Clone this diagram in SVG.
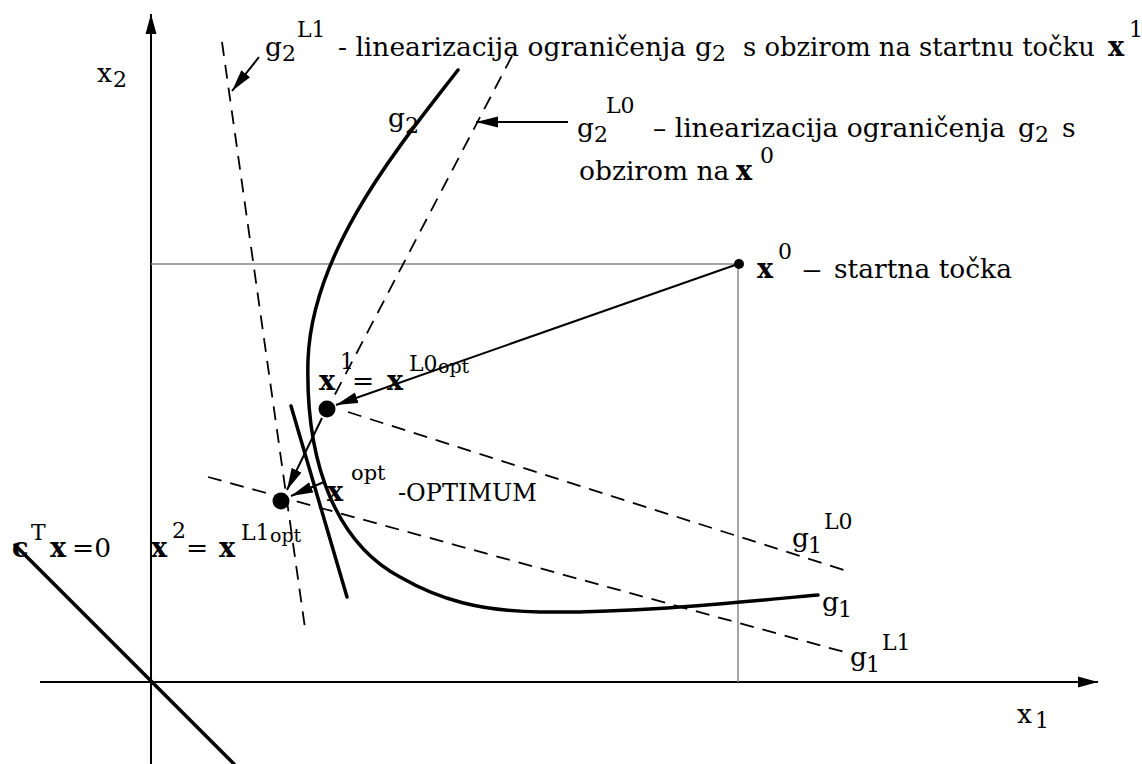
<svg xmlns="http://www.w3.org/2000/svg" width="1142" height="764" viewBox="0 0 1142 764" font-family="DejaVu Serif, serif">
<style>
text{font-family:"DejaVu Serif",serif;fill:#000}
.t{font-size:26.5px}
.b{font-size:27px;font-weight:bold}
.s{font-size:22px}
.sm{font-size:19px}
.ax{stroke:#000;stroke-width:2;fill:none}
.gr{stroke:#888;stroke-width:1.5;fill:none}
.dash{stroke:#000;stroke-width:1.8;fill:none;stroke-dasharray:14 9}
.thick{stroke:#000;stroke-width:3.5;fill:none;stroke-linecap:round}
.arr{stroke:#000;stroke-width:2;fill:none}
</style>
<defs>
<marker id="ah" markerUnits="userSpaceOnUse" markerWidth="24" markerHeight="12" refX="22" refY="6" orient="auto"><path d="M0,0.5 L22,6 L0,11.5 Z" fill="#000"/></marker>
<marker id="axh" markerUnits="userSpaceOnUse" markerWidth="22" markerHeight="12" refX="20" refY="6" orient="auto"><path d="M0,0.5 L20,6 L0,11.5 Z" fill="#000"/></marker>
</defs>
<rect width="1142" height="764" fill="#fff"/>

<g id="axes">
<line class="ax" x1="151" y1="764" x2="151" y2="14" marker-end="url(#axh)"/>
<line class="ax" x1="40" y1="682" x2="1098" y2="682" marker-end="url(#axh)"/>
<text class="t" x="97" y="82">x</text><text class="s" x="113" y="87">2</text>
<text class="t" x="1017" y="723">x</text><text class="s" x="1035" y="728">1</text>
</g>

<g id="guides">
<line class="gr" x1="151" y1="264" x2="738" y2="264"/>
<line class="gr" x1="738" y1="264" x2="738" y2="682"/>
</g>

<g id="objective">
<line class="thick" x1="15" y1="545" x2="234" y2="764" stroke-width="3"/>
<text class="b" x="12" y="557">c</text><text class="s" x="31" y="540">T</text><text class="b" x="50" y="557">x</text><text class="t" x="72" y="557">=0</text>
</g>

<g id="constraint-curve">
<path class="thick" d="M458,70 C400,145 312,250 308,360 C305,470 340,545 400,577 C440,600 480,611 540,612 C640,613 740,602 818,595"/>
<text class="t" x="388" y="127">g</text><text class="s" x="405" y="133">2</text>
<text class="t" x="822" y="611">g</text><text class="s" x="838" y="617">1</text>
</g>

<g id="tangent-line">
<line class="thick" x1="291" y1="406" x2="347" y2="597" stroke-width="3"/>
</g>

<g id="g2L1-line">
<line class="dash" x1="222" y1="42" x2="305" y2="628"/>
</g>
<g id="g2L0-line">
<line class="dash" x1="512" y1="56" x2="331" y2="402"/>
</g>
<g id="g1L0-line">
<line class="dash" x1="348" y1="412" x2="850" y2="572"/>
<text class="t" x="792" y="547">g</text><text class="s" x="808" y="553">1</text><text class="s" x="824" y="529">L0</text>
</g>
<g id="g1L1-line">
<line class="dash" x1="208" y1="477" x2="848" y2="653"/>
<text class="t" x="850" y="666">g</text><text class="s" x="866" y="672">1</text><text class="s" x="882" y="650">L1</text>
</g>

<g id="connectors">
<line class="arr" x1="738" y1="264" x2="336" y2="405" marker-end="url(#ah)"/>
<line class="arr" x1="322" y1="418" x2="287" y2="490" marker-end="url(#ah)"/>
<line class="arr" x1="324" y1="482" x2="291" y2="496" marker-end="url(#ah)"/>
<line class="arr" x1="259" y1="57" x2="232" y2="91" marker-end="url(#ah)"/>
<line class="arr" x1="568" y1="122" x2="476" y2="122" marker-end="url(#ah)"/>
</g>

<g id="node-x0">
<circle cx="739" cy="264" r="5"/>
<text class="b" x="757" y="278">x</text><text class="s" x="778" y="259">0</text>
<text class="t" x="802" y="278" transform="translate(802 0) scale(1.5 1) translate(-802 0)">–</text>
<text class="t" x="834" y="278">startna točka</text>
</g>

<g id="node-x1">
<circle cx="327" cy="409" r="8.5"/>
<text class="b" x="319" y="390">x</text><text class="s" x="340" y="369">1</text>
<text class="t" x="352" y="390">=</text>
<text class="b" x="387" y="390">x</text><text class="s" x="409" y="371">L0</text><text class="sm" x="438" y="373">opt</text>
</g>

<g id="node-x2">
<circle cx="281" cy="501" r="8.5"/>
<text class="b" x="151" y="557">x</text><text class="s" x="172" y="538">2</text>
<text class="t" x="186" y="557">=</text>
<text class="b" x="219" y="557">x</text><text class="s" x="241" y="540">L1</text><text class="sm" x="270" y="542">opt</text>
</g>

<g id="node-xopt">
<text class="b" x="327" y="501">x</text><text x="351" y="480" font-size="21">opt</text>
<text x="398" y="501" font-size="24">-OPTIMUM</text>
</g>

<g id="label-g2L1">
<text class="t" x="265" y="56">g</text><text class="s" x="282" y="61">2</text><text class="s" x="297" y="37">L1</text>
<text class="t" x="338" y="56">- linearizacija ograničenja</text>
<text class="t" x="695" y="56">g</text><text class="s" x="712" y="61">2</text>
<text x="743" y="56" style="font-size:25.8px">s obzirom na startnu točku</text>
<text class="b" x="1108" y="56">x</text><text class="s" x="1129" y="37">1</text>
</g>

<g id="label-g2L0">
<text class="t" x="577" y="137">g</text><text class="s" x="594" y="142">2</text><text class="s" x="606" y="113">L0</text>
<text class="t" x="653" y="137">– linearizacija ograničenja</text>
<text class="t" x="1018" y="137">g</text><text class="s" x="1035" y="142">2</text>
<text class="t" x="1062" y="137">s</text>
<text class="t" x="579" y="180">obzirom na</text>
<text class="b" x="736" y="180">x</text><text class="s" x="760" y="163">0</text>
</g>
</svg>
